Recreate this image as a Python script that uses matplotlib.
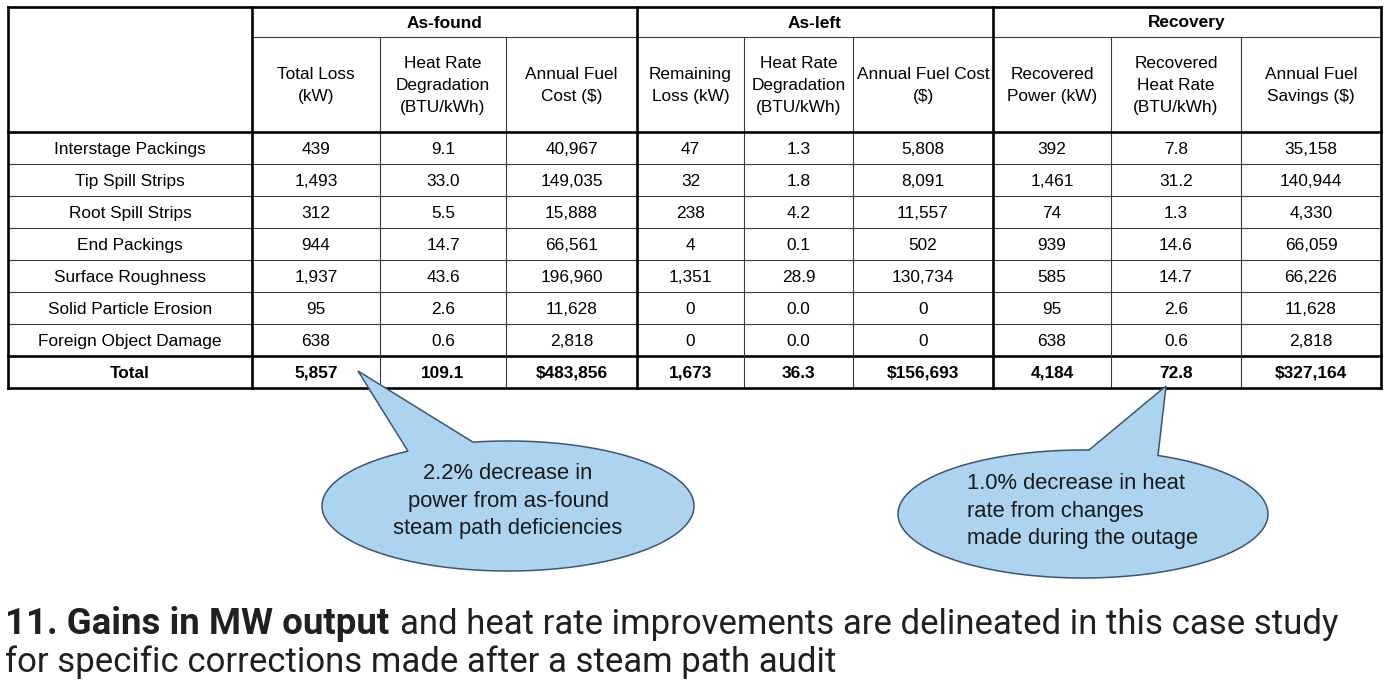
import numpy as np
import matplotlib.pyplot as plt
from matplotlib.patches import Polygon

# ---- data ----
row_labels = ["Interstage Packings", "Tip Spill Strips", "Root Spill Strips", "End Packings",
              "Surface Roughness", "Solid Particle Erosion", "Foreign Object Damage"]
groups = ["As-found", "As-left", "Recovery"]
sub_headers = ["Total Loss\n(kW)", "Heat Rate\nDegradation\n(BTU/kWh)", "Annual Fuel\nCost ($)",
               "Remaining\nLoss (kW)", "Heat Rate\nDegradation\n(BTU/kWh)", "Annual Fuel Cost\n($)",
               "Recovered\nPower (kW)", "Recovered\nHeat Rate\n(BTU/kWh)", "Annual Fuel\nSavings ($)"]

found_loss = [439, 1493, 312, 944, 1937, 95, 638]
found_hr = [9.1, 33.0, 5.5, 14.7, 43.6, 2.6, 0.6]
found_cost = [40967, 149035, 15888, 66561, 196960, 11628, 2818]
left_loss = [47, 32, 238, 4, 1351, 0, 0]
left_hr = [1.3, 1.8, 4.2, 0.1, 28.9, 0.0, 0.0]
left_cost = [5808, 8091, 11557, 502, 130734, 0, 0]
rec_power = [392, 1461, 74, 939, 585, 95, 638]
rec_hr = [7.8, 31.2, 1.3, 14.6, 14.7, 2.6, 0.6]
rec_savings = [35158, 140944, 4330, 66059, 66226, 11628, 2818]
totals = [5857, 109.1, 483856, 1673, 36.3, 156693, 4184, 72.8, 327164]

callout_left = "2.2% decrease in\npower from as-found\nsteam path deficiencies"
callout_right = "1.0% decrease in heat\nrate from changes\nmade during the outage"
caption_bold = "11. Gains in MW output"
caption_rest = "and heat rate improvements are delineated in this case study"
caption_line2 = "for specific corrections made after a steam path audit"

# ---- layout ----
W, H = 1389, 693
col_x = [8, 252, 380, 506, 637, 744, 853, 993, 1111, 1241, 1381]
y_top, y_grp, y_hdr, row_h = 7, 37, 132, 32
n_rows = len(row_labels) + 1
y_bot = y_hdr + n_rows * row_h
tfont = ["Liberation Sans", "DejaVu Sans"]
fs = 12.4
thin = dict(color="#3a3a3a", lw=0.8)
thick = dict(color="black", lw=1.9)

fig = plt.figure(figsize=(W / 100, H / 100), dpi=100)
ax = fig.add_axes([0, 0, 1, 1])
ax.set_xlim(0, W)
ax.set_ylim(H, 0)
ax.axis("off")

# grid lines
for i in range(n_rows - 1):
    y = y_hdr + (i + 1) * row_h
    if i == n_rows - 2:
        ax.plot([col_x[0], col_x[-1]], [y, y], **thick)
    else:
        ax.plot([col_x[0], col_x[-1]], [y, y], **thin)
ax.plot([col_x[1], col_x[-1]], [y_grp, y_grp], **thin)
for j, x in enumerate(col_x):
    if j in (0, 1, 4, 7, 10):
        ax.plot([x, x], [y_top, y_bot], **thick)
    else:
        ax.plot([x, x], [y_grp, y_bot], **thin)
for y in (y_top, y_hdr, y_bot):
    ax.plot([col_x[0], col_x[-1]], [y, y], **thick)

# headers
for g, name in enumerate(groups):
    xc = (col_x[1 + 3 * g] + col_x[4 + 3 * g]) / 2
    ax.text(xc, (y_top + y_grp) / 2 + 1, name, ha="center", va="center",
            fontsize=fs, fontweight="bold", family=tfont)
for j, h in enumerate(sub_headers):
    xc = (col_x[j + 1] + col_x[j + 2]) / 2
    ax.text(xc, (y_grp + y_hdr) / 2 + 1, h, ha="center", va="center",
            fontsize=fs, family=tfont, linespacing=1.6)

# body
cols = [found_loss, found_hr, found_cost, left_loss, left_hr, left_cost,
        rec_power, rec_hr, rec_savings]
kinds = ["int", "f1", "int"] * 3
def fmt(v, kind, dollar=False):
    if kind == "f1":
        return f"{v:.1f}"
    s = f"{int(v):,}"
    return "$" + s if dollar else s

for i, lab in enumerate(row_labels):
    yc = y_hdr + (i + 0.5) * row_h + 1.5
    ax.text((col_x[0] + col_x[1]) / 2, yc, lab, ha="center", va="center",
            fontsize=fs, family=tfont)
    for j, c in enumerate(cols):
        ax.text((col_x[j + 1] + col_x[j + 2]) / 2, yc, fmt(c[i], kinds[j]),
                ha="center", va="center", fontsize=fs, family=tfont)
yc = y_hdr + (n_rows - 0.5) * row_h + 1
ax.text((col_x[0] + col_x[1]) / 2, yc, "Total", ha="center", va="center",
        fontsize=fs, family=tfont, fontweight="bold")
for j, v in enumerate(totals):
    ax.text((col_x[j + 1] + col_x[j + 2]) / 2, yc, fmt(v, kinds[j], dollar=(j % 3 == 2)),
            ha="center", va="center", fontsize=fs, family=tfont, fontweight="bold")

# callouts
def bubble(cx, cy, a, b, xb1, xb2, tip):
    t_hi = np.arccos((xb1 - cx) / a)
    t_lo = np.arccos((xb2 - cx) / a)
    t = np.linspace(t_hi, t_lo + 2 * np.pi, 300)
    pts = np.column_stack([cx + a * np.cos(t), cy - b * np.sin(t)])
    pts = np.vstack([pts, tip])
    ax.add_patch(Polygon(pts, closed=True, facecolor="#acd3ef",
                         edgecolor="#3b5674", lw=1.1, zorder=3))

bubble(508, 506, 186, 65, 408, 473, (358, 371))
ax.text(508, 501, callout_left, ha="center", va="center", fontsize=15.8,
        family=tfont, linespacing=1.38, color="#1a1a1a", zorder=4)
bubble(1083, 514, 185, 64, 1089, 1158, (1166, 386))
ax.text(967, 511, callout_right, ha="left", va="center", fontsize=15.8,
        family=tfont, linespacing=1.38, color="#1a1a1a", zorder=4)

# caption: fit widths to the reference line
cap_font = ["Roboto", "DejaVu Sans"]
cap_col = "#231f20"
r = fig.canvas.get_renderer()
t1 = ax.text(5, 634, caption_bold, ha="left", va="baseline", fontsize=25,
             fontweight="bold", family=cap_font, color=cap_col)
w1 = t1.get_window_extent(r).width
t1.set_fontsize(25 * 385 / w1)
t2 = ax.text(400, 634, caption_rest, ha="left", va="baseline", fontsize=25,
             fontweight="normal", family=cap_font, color=cap_col)
w2 = t2.get_window_extent(r).width
fs2 = 25 * 940 / w2
t2.set_fontsize(fs2)
t3 = ax.text(5, 672, caption_line2, ha="left", va="baseline", fontsize=fs2,
             fontweight="normal", family=cap_font, color=cap_col)

fig.savefig("out.png", dpi=100)
